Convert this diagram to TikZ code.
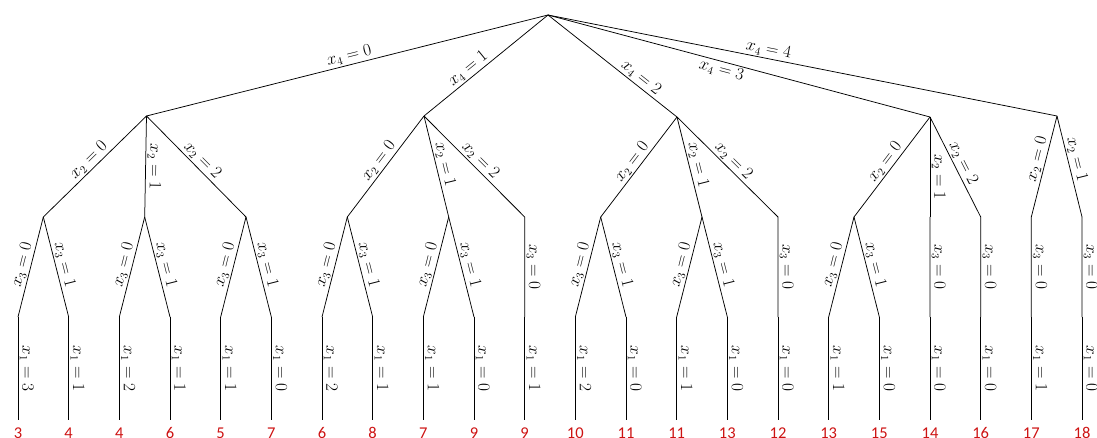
\documentclass[tikz,border=0pt]{standalone}
\usepackage{fontspec}
\newfontfamily\numfont{Carlito}
\definecolor{leafred}{RGB}{205,18,18}
\begin{document}
\begin{tikzpicture}[x=1pt,y=-1pt,
  edge/.style={line width=0.75pt},
  lbl/.style={sloped, above, inner sep=1.5pt, font=\fontsize{16}{19}\selectfont},
  lblb/.style={sloped, below, inner sep=1.5pt, font=\fontsize{16}{19}\selectfont},
  vlbl/.style={lbl, allow upside down},
  leafnum/.style={text=leafred, anchor=base, inner sep=0pt, font=\numfont\fontsize{16.5}{19}\selectfont}]
\useasboundingbox (0,0) rectangle (1097,438);
% root and level 1
\coordinate (r) at (548,15);
\coordinate (a) at (146.5,116);
\coordinate (b) at (424,116);
\coordinate (c) at (677,117);
\coordinate (d) at (930,117);
\coordinate (e) at (1057,116);
% leaves
\foreach \i/\v/\w in {0/3/3,1/1/4,2/2/4,3/1/6,4/1/5,5/0/7,6/2/6,7/1/8,8/1/7,9/0/9,10/1/9,11/2/10,12/0/11,13/1/11,14/0/13,15/0/12,16/1/13,17/0/15,18/0/14,19/0/16,20/1/17,21/0/18}{
  \coordinate (l\i) at ({18+50.667*\i},317);
  \coordinate (m\i) at ({18+50.667*\i},420);
  \draw[edge] (l\i) -- node[vlbl]{$x_1 = \v$} (m\i);
  \node[leafnum] (t\i) at ({18+50.667*\i},438.5) {\w};
}
% level 2
\coordinate (n1) at (43.3,217);
\coordinate (n2) at (144.7,217);
\coordinate (n3) at (246,217);
\coordinate (n4) at (347.3,217);
\coordinate (n5) at (448.7,217);
\coordinate (n6) at (524.7,217);
\coordinate (n7) at (600.7,217);
\coordinate (n8) at (702,217);
\coordinate (n9) at (778,217);
\coordinate (n10) at (854,217);
\coordinate (n11) at (930,217);
\coordinate (n12) at (980.7,217);
\coordinate (n13) at (1031.3,217);
\coordinate (n14) at (1082,217);
% root edges
\draw[edge] (r) -- node[lbl,pos=0.49]{$x_4 = 0$} (a);
\draw[edge] (r) -- node[lbl,pos=0.6]{$x_4 = 1$} (b);
\draw[edge] (r) -- node[lbl,pos=0.68]{$x_4 = 2$} (c);
\draw[edge] (r) -- node[lblb,pos=0.46]{$x_4 = 3$} (d);
\draw[edge] (r) -- node[lbl,pos=0.43]{$x_4 = 4$} (e);
% level 1 -> level 2
\draw[edge] (a) -- node[lbl]{$x_2 = 0$} (n1);
\draw[edge] (a) -- node[vlbl]{$x_2 = 1$} (n2);
\draw[edge] (a) -- node[lbl]{$x_2 = 2$} (n3);
\draw[edge] (b) -- node[lbl]{$x_2 = 0$} (n4);
\draw[edge] (b) -- node[vlbl]{$x_2 = 1$} (n5);
\draw[edge] (b) -- node[lbl]{$x_2 = 2$} (n6);
\draw[edge] (c) -- node[lbl]{$x_2 = 0$} (n7);
\draw[edge] (c) -- node[vlbl]{$x_2 = 1$} (n8);
\draw[edge] (c) -- node[lbl]{$x_2 = 2$} (n9);
\draw[edge] (d) -- node[lbl]{$x_2 = 0$} (n10);
\draw[edge] (d) -- node[vlbl,pos=0.6]{$x_2 = 1$} (n11);
\draw[edge] (d) -- node[lbl]{$x_2 = 2$} (n12);
\draw[edge] (e) -- node[lbl,pos=0.45]{$x_2 = 0$} (n13);
\draw[edge] (e) -- node[lbl,pos=0.45]{$x_2 = 1$} (n14);
% level 2 -> level 3
\draw[edge] (n1) -- node[lbl]{$x_3 = 0$} (l0);
\draw[edge] (n1) -- node[lbl]{$x_3 = 1$} (l1);
\draw[edge] (n2) -- node[lbl]{$x_3 = 0$} (l2);
\draw[edge] (n2) -- node[lbl]{$x_3 = 1$} (l3);
\draw[edge] (n3) -- node[lbl]{$x_3 = 0$} (l4);
\draw[edge] (n3) -- node[lbl]{$x_3 = 1$} (l5);
\draw[edge] (n4) -- node[lbl]{$x_3 = 0$} (l6);
\draw[edge] (n4) -- node[lbl]{$x_3 = 1$} (l7);
\draw[edge] (n5) -- node[lbl]{$x_3 = 0$} (l8);
\draw[edge] (n5) -- node[lbl]{$x_3 = 1$} (l9);
\draw[edge] (n6) -- node[vlbl]{$x_3 = 0$} (l10);
\draw[edge] (n7) -- node[lbl]{$x_3 = 0$} (l11);
\draw[edge] (n7) -- node[lbl]{$x_3 = 1$} (l12);
\draw[edge] (n8) -- node[lbl]{$x_3 = 0$} (l13);
\draw[edge] (n8) -- node[lbl]{$x_3 = 1$} (l14);
\draw[edge] (n9) -- node[vlbl]{$x_3 = 0$} (l15);
\draw[edge] (n10) -- node[lbl]{$x_3 = 0$} (l16);
\draw[edge] (n10) -- node[lbl]{$x_3 = 1$} (l17);
\draw[edge] (n11) -- node[vlbl]{$x_3 = 0$} (l18);
\draw[edge] (n12) -- node[vlbl]{$x_3 = 0$} (l19);
\draw[edge] (n13) -- node[vlbl]{$x_3 = 0$} (l20);
\draw[edge] (n14) -- node[vlbl]{$x_3 = 0$} (l21);
\end{tikzpicture}
\end{document}
